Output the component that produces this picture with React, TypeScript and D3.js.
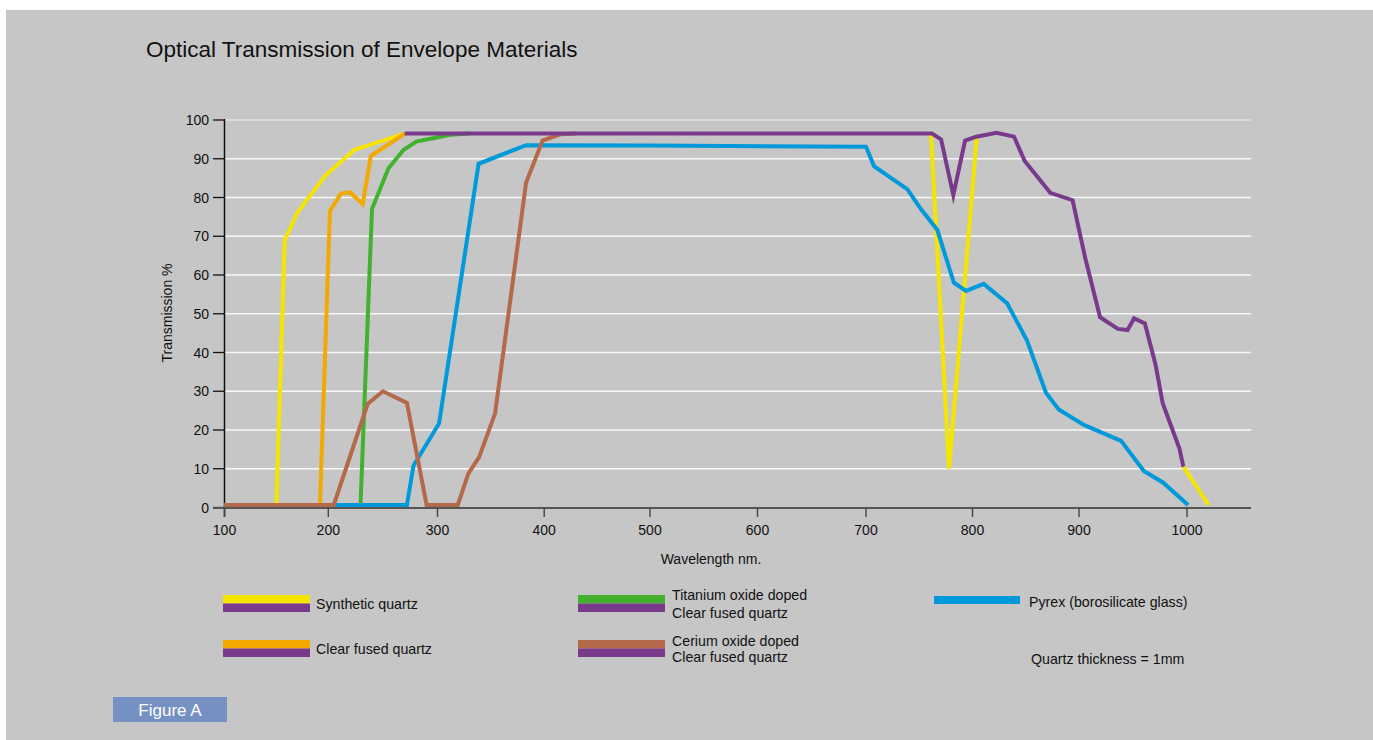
import React from "react";
import * as d3 from "d3";

type Pt = [number, number];

const wavelengthTicks = [100, 200, 300, 400, 500, 600, 700, 800, 900, 1000];
const transmissionTicks = [0, 10, 20, 30, 40, 50, 60, 70, 80, 90, 100];

// Synthetic quartz (yellow) – specific segments
const syntheticRise: Pt[] = [[100, 0], [150, 0], [158, 69], [170, 76], [184, 81], [197.5, 85.8], [224, 92.3], [270, 96.5]];
const syntheticDip: Pt[] = [[761, 96.5], [778, 10], [804, 95.5]];
const syntheticTail: Pt[] = [[996.7, 10.5], [1020, 0]];

// Clear fused quartz (orange)
const clearFused: Pt[] = [[100, 0], [192, 0], [201.5, 76.5], [211.5, 81], [220, 81.3], [231.5, 78.3], [239, 90.7], [270, 96.5]];

// Titanium oxide doped (green)
const titanium: Pt[] = [[100, 0], [229.5, 0], [240, 77], [255, 87.5], [269, 92.3], [281, 94.5], [296, 95.3], [312, 96.2], [330, 96.5]];

// Pyrex (blue)
const pyrex: Pt[] = [[100, 0], [272, 0], [278, 10.8], [301.5, 21.7], [338.5, 88.7], [383, 93.5], [500, 93.4], [700, 93.1], [707.5, 88.1], [739, 82.1], [751, 77.2], [767, 71.6], [782.5, 58], [794, 55.9], [810.5, 57.7], [832.5, 52.7], [851, 43.2], [869, 29.6], [881, 25.3], [904.5, 21.3], [939, 17.2], [960, 9.4], [978, 6.4], [1001, 0]];

// Cerium oxide doped (brown)
const cerium: Pt[] = [[100, 0], [205, 0], [236, 26.7], [250, 30], [272, 27], [290, 0], [319, 0], [329, 8.8], [339, 13], [354, 24.3], [383, 83.8], [398.5, 94.7], [415, 96.3], [430, 96.5]];

// Common clear fused quartz portion (purple)
const commonQuartz: Pt[] = [[270, 96.5], [762, 96.5], [770.5, 95], [782, 80.6], [793, 94.7], [803.5, 95.7], [822.5, 96.7], [839, 95.7], [849, 89.4], [873, 81.2], [894, 79.3], [905.5, 64.7], [919.5, 49.1], [936, 46.1], [945, 45.8], [951, 48.8], [961, 47.5], [971, 36.7], [977.5, 26.9], [993, 15.2], [996.7, 10.5]];

const legendLabels = [
  ["Synthetic quartz"],
  ["Clear fused quartz"],
  ["Titanium oxide doped", "Clear fused quartz"],
  ["Cerium oxide doped", "Clear fused quartz"],
  ["Pyrex (borosilicate glass)"],
];

const C = {
  yellow: "#f5e500",
  orange: "#f2a900",
  green: "#41b12f",
  brown: "#b4694a",
  blue: "#0099da",
  purple: "#7a3a8b",
  bg: "#c6c6c6",
};

const FONT = "'Liberation Sans', Arial, Helvetica, sans-serif";

export default function App() {
  // the original axis is slightly uneven; map each labelled tick to its drawn place
  const x = d3
    .scaleLinear()
    .domain(wavelengthTicks)
    .range([224.5, 328.3, 437.5, 544.2, 650, 757.5, 866, 972.5, 1079, 1187]);
  const y = d3.scaleLinear().domain([0, 100]).range([507.5, 120]);
  const y0 = y(0) - 2.5;
  const line = d3
    .line<Pt>()
    .x((d) => x(d[0]))
    .y((d) => Math.min(y(d[1]), y0));

  const plotLeft = x(100);
  const plotRight = 1251;

  const series: { data: Pt[]; color: string }[] = [
    { data: syntheticRise, color: C.yellow },
    { data: syntheticDip, color: C.yellow },
    { data: clearFused, color: C.orange },
    { data: titanium, color: C.green },
    { data: pyrex, color: C.blue },
    { data: cerium, color: C.brown },
    { data: commonQuartz, color: C.purple },
    { data: syntheticTail, color: C.yellow },
  ];

  const swatch = (sx: number, sy: number, top: string, bottom: string | null) => (
    <g>
      <rect x={sx} y={sy} width={87} height={8.5} fill={top} />
      {bottom && <rect x={sx} y={sy + 8.5} width={87} height={8.5} fill={bottom} />}
    </g>
  );

  const LF = 14.2;

  return (
    <svg
      width={1373}
      height={740}
      style={{ position: "absolute", left: 0, top: 0, display: "block" }}
      fontFamily={FONT}
    >
      <rect x={0} y={0} width={1373} height={740} fill="#ffffff" />
      <rect x={6} y={10} width={1367} height={730} fill={C.bg} />

      <text x={146} y={57} fontSize={22.5} fill="#111">
        Optical Transmission of Envelope Materials
      </text>

      {/* grid */}
      {transmissionTicks
        .filter((t) => t > 0)
        .map((t) => (
          <line
            key={t}
            x1={plotLeft}
            x2={plotRight}
            y1={y(t)}
            y2={y(t)}
            stroke={t === 100 ? "#e2e2e2" : "#f7f7f7"}
            strokeWidth={1.6}
          />
        ))}

      {/* y axis */}
      <line x1={plotLeft} x2={plotLeft} y1={119} y2={517} stroke="#111" strokeWidth={1.5} />
      {transmissionTicks.map((t) => (
        <g key={t}>
          <line x1={213} x2={plotLeft} y1={y(t)} y2={y(t)} stroke="#111" strokeWidth={1.3} />
          <text x={209} y={y(t)} fontSize={14} textAnchor="end" dominantBaseline="central" fill="#111">
            {t}
          </text>
        </g>
      ))}
      <text
        transform={`translate(167,${313}) rotate(-90)`}
        fontSize={14}
        textAnchor="middle"
        dominantBaseline="central"
        fill="#111"
      >
        Transmission %
      </text>

      {/* x axis */}
      <line x1={213} x2={plotRight} y1={508} y2={508} stroke="#555" strokeWidth={2} />
      {wavelengthTicks.map((t) => (
        <g key={t}>
          <line x1={x(t)} x2={x(t)} y1={508} y2={517} stroke="#444" strokeWidth={1.4} />
          <text x={x(t)} y={530} fontSize={14} textAnchor="middle" dominantBaseline="central" fill="#111">
            {t}
          </text>
        </g>
      ))}
      <text x={711} y={559} fontSize={14} textAnchor="middle" dominantBaseline="central" fill="#111">
        Wavelength nm.
      </text>

      {/* curves */}
      {series.map((s, i) => (
        <path
          key={i}
          d={line(s.data) || ""}
          fill="none"
          stroke={s.color}
          strokeWidth={4}
          strokeLinejoin="miter"
          strokeMiterlimit={10}
        />
      ))}

      {/* legend */}
      {swatch(223, 595, C.yellow, C.purple)}
      <text x={316} y={604} fontSize={LF} dominantBaseline="central" fill="#111">{legendLabels[0][0]}</text>

      {swatch(223, 640, C.orange, C.purple)}
      <text x={316} y={649} fontSize={LF} dominantBaseline="central" fill="#111">{legendLabels[1][0]}</text>

      {swatch(578, 595, C.green, C.purple)}
      <text x={672} y={595} fontSize={LF} dominantBaseline="central" fill="#111">{legendLabels[2][0]}</text>
      <text x={672} y={612.5} fontSize={LF} dominantBaseline="central" fill="#111">{legendLabels[2][1]}</text>

      {swatch(578, 640, C.brown, C.purple)}
      <text x={672} y={640.5} fontSize={LF} dominantBaseline="central" fill="#111">{legendLabels[3][0]}</text>
      <text x={672} y={657} fontSize={LF} dominantBaseline="central" fill="#111">{legendLabels[3][1]}</text>

      <rect x={934} y={596} width={86} height={8} fill={C.blue} />
      <text x={1029} y={601.5} fontSize={LF} dominantBaseline="central" fill="#111">{legendLabels[4][0]}</text>

      <text x={1031} y={659} fontSize={LF} dominantBaseline="central" fill="#111">
        Quartz thickness = 1mm
      </text>

      {/* figure tag */}
      <rect x={113} y={697} width={114} height={25} fill="#7591c4" />
      <text x={170} y={710} fontSize={17} textAnchor="middle" dominantBaseline="central" fill="#ffffff">
        Figure A
      </text>
    </svg>
  );
}
